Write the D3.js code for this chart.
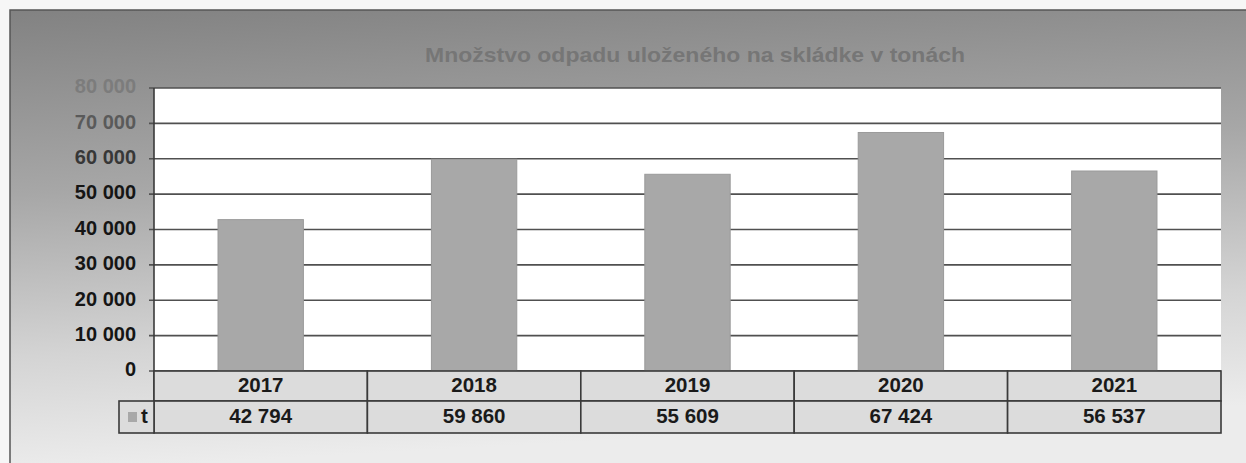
<!DOCTYPE html>
<meta charset="utf-8" />
<title>Množstvo odpadu</title>
<style>
  body { margin: 0; background: #f4f4f4; }
  svg { display: block; font-family: "Liberation Sans", Arial, sans-serif; }
  .grid line { stroke: #505050; stroke-width: 1.6px; }
  .tick-label { font-size: 20px; font-weight: bold; }
  .cell { fill: #dcdcdc; stroke: #3a3a3a; stroke-width: 1.6px; }
  .cell-text { font-size: 20.5px; font-weight: bold; fill: #1a1a1a; }
</style>
<svg width="1246" height="463"></svg>
<script src="https://d3js.org/d3.v7.min.js"></script>
<script>
const years = ["2017", "2018", "2019", "2020", "2021"];
const tons = [42794, 59860, 55609, 67424, 56537];
const yTicks = [0, 10000, 20000, 30000, 40000, 50000, 60000, 70000, 80000];
const seriesName = "t";
const title = "Množstvo odpadu uloženého na skládke v tonách";

const svg = d3.select("svg");
const W = 1246, H = 463;
const plot = { left: 154, right: 1221, top: 88, bottom: 371 };
const rowH = [30, 32];

const fmt = v => d3.format(",")(v).replace(/,/g, " ");

// background gradient
const defs = svg.append("defs");
const grad = defs.append("linearGradient").attr("id", "bg")
  .attr("x1", 0).attr("y1", 0).attr("x2", 0.15).attr("y2", 1);
grad.append("stop").attr("offset", 0).attr("stop-color", "#828282");
grad.append("stop").attr("offset", 0.4).attr("stop-color", "#a7a7a7");
grad.append("stop").attr("offset", 0.75).attr("stop-color", "#d4d4d4");
grad.append("stop").attr("offset", 1).attr("stop-color", "#ececec");

svg.append("rect").attr("width", W).attr("height", H).attr("fill", "#f6f6f6");
svg.append("rect").attr("x", 10).attr("y", 10).attr("width", W - 10).attr("height", H - 10)
  .attr("fill", "url(#bg)");
svg.append("path").attr("d", `M10,${H} V10 H${W}`)
  .attr("fill", "none").attr("stroke", "#555").attr("stroke-width", 1.5);

svg.append("text")
  .attr("x", 695).attr("y", 56)
  .attr("text-anchor", "middle").attr("dominant-baseline", "middle")
  .attr("font-size", 21).attr("font-weight", "bold")
  .attr("fill", "#767676")
  .attr("textLength", 540).attr("lengthAdjust", "spacingAndGlyphs")
  .text(title);

const x = d3.scaleBand().domain(years)
  .range([plot.left, plot.right]).paddingInner(0.6).paddingOuter(0.3);
const y = d3.scaleLinear().domain([0, 80000]).range([plot.bottom, plot.top]);

// plot area
svg.append("rect")
  .attr("x", plot.left).attr("y", plot.top)
  .attr("width", plot.right - plot.left).attr("height", plot.bottom - plot.top)
  .attr("fill", "#ffffff");

svg.append("g").attr("class", "grid")
  .selectAll("line").data(yTicks).join("line")
  .attr("x1", plot.left - 5).attr("x2", plot.right)
  .attr("y1", d => y(d)).attr("y2", d => y(d));

const tickColor = d3.scaleLinear().domain([50000, 80000]).range(["#151515", "#7c7c7c"]).clamp(true);
svg.append("g").selectAll("text").data(yTicks).join("text")
  .attr("class", "tick-label")
  .attr("x", 136).attr("y", d => y(d))
  .attr("text-anchor", "end").attr("dominant-baseline", "middle")
  .attr("fill", d => tickColor(d))
  .text(fmt);

svg.append("g").selectAll("rect").data(years).join("rect")
  .attr("x", d => x(d)).attr("width", x.bandwidth())
  .attr("y", (d, i) => y(tons[i]))
  .attr("height", (d, i) => y(0) - y(tons[i]))
  .attr("fill", "#a8a8a8").attr("stroke", "#9a9a9a").attr("stroke-width", 1);

// y axis line
svg.append("line")
  .attr("x1", plot.left).attr("x2", plot.left)
  .attr("y1", plot.top).attr("y2", plot.bottom + rowH[0] + rowH[1])
  .attr("stroke", "#3a3a3a").attr("stroke-width", 1.6);

// data table
const step = x.step();
const colX = d => plot.left + years.indexOf(d) * step;
const table = svg.append("g");

table.selectAll("rect.yr").data(years).join("rect")
  .attr("class", "cell yr")
  .attr("x", colX).attr("y", plot.bottom)
  .attr("width", step).attr("height", rowH[0]);
table.selectAll("rect.val").data(years).join("rect")
  .attr("class", "cell val")
  .attr("x", colX).attr("y", plot.bottom + rowH[0])
  .attr("width", step).attr("height", rowH[1]);
table.selectAll("text.yr").data(years).join("text")
  .attr("class", "cell-text yr")
  .attr("x", d => colX(d) + step / 2).attr("y", plot.bottom + rowH[0] / 2 + 1)
  .attr("text-anchor", "middle").attr("dominant-baseline", "middle")
  .text(d => d);
table.selectAll("text.val").data(years).join("text")
  .attr("class", "cell-text val")
  .attr("x", d => colX(d) + step / 2).attr("y", plot.bottom + rowH[0] + rowH[1] / 2 + 1)
  .attr("text-anchor", "middle").attr("dominant-baseline", "middle")
  .text((d, i) => fmt(tons[i]));

// legend cell
const legX = 119;
table.append("rect").attr("class", "cell")
  .attr("x", legX).attr("y", plot.bottom + rowH[0])
  .attr("width", plot.left - legX).attr("height", rowH[1]);
table.append("rect")
  .attr("x", 128).attr("y", plot.bottom + rowH[0] + 11)
  .attr("width", 9).attr("height", 10).attr("fill", "#a8a8a8");
table.append("text").attr("class", "cell-text")
  .attr("x", 141).attr("y", plot.bottom + rowH[0] + rowH[1] / 2 + 1)
  .attr("dominant-baseline", "middle")
  .text(seriesName);
</script>
